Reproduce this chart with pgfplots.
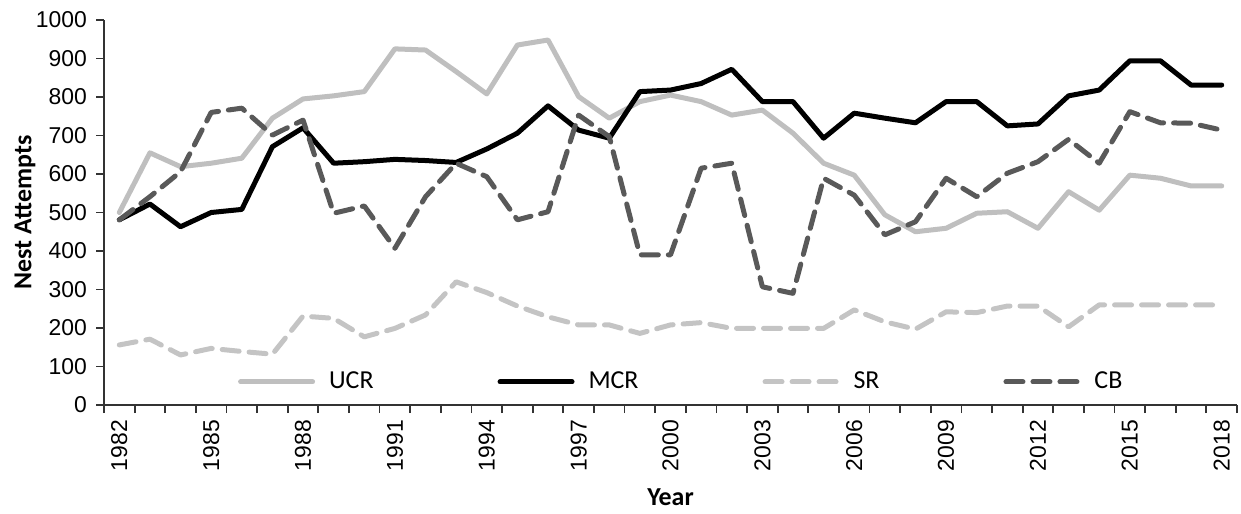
\documentclass[border=0pt]{standalone}
\usepackage{fontspec}
\setmainfont{Liberation Sans}
\newfontfamily\carlito{Carlito}
\usepackage{pgfplots}
\pgfplotsset{compat=1.18}
\usepackage{pgfplotstable}

\definecolor{ucr}{HTML}{BFBFBF}
\definecolor{sr}{HTML}{C4C4C4}
\definecolor{cb}{HTML}{595959}

% year UCR MCR SR CB
\pgfplotstableread{
year UCR MCR SR CB
1982 500 481 156 481
1983 655 522 171 541
1984 619 463 130 606
1985 628 500 147 760
1986 641 508 139 771
1987 745 671 132 701
1988 795 720 231 740
1989 803 628 225 498
1990 814 632 177 517
1991 925 638 199 407
1992 922 635 234 541
1993 866 630 320 628
1994 808 665 292 593
1995 935 706 257 481
1996 948 777 229 502
1997 801 714 208 753
1998 745 693 208 697
1999 788 814 186 390
2000 805 818 208 390
2001 788 835 214 615
2002 753 872 199 628
2003 766 788 199 307
2004 706 788 199 290
2005 628 693 199 589
2006 597 758 247 545
2007 494 745 216 442
2008 450 733 197 476
2009 459 788 242 589
2010 498 788 240 541
2011 502 725 257 602
2012 459 730 257 632
2013 554 803 203 690
2014 506 818 260 628
2015 597 894 260 762
2016 589 894 260 733
2017 569 831 260 732
2018 569 831 260 714
}\nests

\begin{document}
\begin{tikzpicture}
\begin{axis}[
  at={(0,0)}, anchor=south west,
  scale only axis,
  width=566.5bp, height=192.5bp,
  xmin=1981.5, xmax=2018.5,
  ymin=0, ymax=1000,
  ytick={0,100,...,1000},
  xtick={1982,1985,...,2018},
  minor xtick={1981.5,1982.5,...,2018.5},
  major x tick style={draw=none},
  tick align=outside,
  major tick length=4bp,
  minor tick length=4bp,
  y tick label style={font=\fontsize{11.5}{12}\selectfont, xshift=-1bp},
  x tick label style={font=\fontsize{11.5}{12}\selectfont, rotate=90, anchor=east},
  /pgf/number format/1000 sep={},
  /pgf/number format/assume math mode=true,
  axis x line*=bottom,
  axis y line*=left,
  axis line style={line width=0.9bp, color=black!80},
  every tick/.style={line width=0.9bp, color=black!80},
  xlabel={\carlito\bfseries Year},
  ylabel={\carlito\bfseries Nest Attempts},
  label style={font=\fontsize{13}{14}\selectfont},
  xlabel style={at={(0.5,-46bp)}, anchor=center},
  ylabel style={at={(-39.5bp,0.5)}, anchor=center},
  legend columns=4,
  legend style={draw=none, fill=none, inner sep=0pt,
    at={(0.118,0.06)}, anchor=west,
    font=\carlito\fontsize{13}{14}\selectfont,
    /tikz/every even column/.append style={column sep=60bp},
    /tikz/every odd column/.append style={column sep=5bp}},
  legend image code/.code={\draw[#1] (0bp,0bp) -- (36bp,0bp);},
  every axis plot/.append style={line width=2.5bp, line join=round, line cap=round},
]
\addplot[ucr] table[x=year, y=UCR] {\nests};
\addlegendentry{UCR}
\addplot[black] table[x=year, y=MCR] {\nests};
\addlegendentry{MCR}
\addplot[sr, dash pattern=on 8.5bp off 5bp] table[x=year, y=SR] {\nests};
\addlegendentry{SR}
\addplot[cb, dash pattern=on 8.5bp off 5bp] table[x=year, y=CB] {\nests};
\addlegendentry{CB}
\end{axis}
\pgfresetboundingbox
\useasboundingbox (-52bp,-54.5bp) rectangle (568.5bp,202.5bp);
\end{tikzpicture}
\end{document}
